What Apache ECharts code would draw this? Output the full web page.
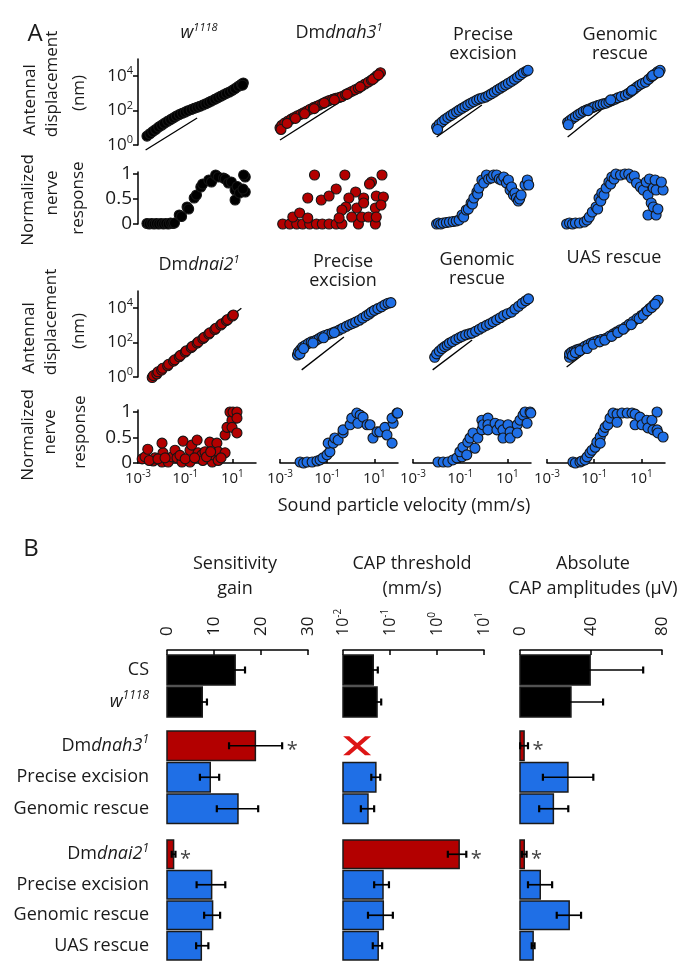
<!DOCTYPE html>
<html>
<head>
<meta charset="utf-8">
<script src="https://cdn.jsdelivr.net/npm/echarts@6.0.0/dist/echarts.min.js"></script>
<style>html,body{margin:0;padding:0;background:#fff;}#chart{width:685px;height:975px;}</style>
</head>
<body>
<div id="chart"></div>
<script>
// ================= DATA =================
const velTicks = [0.001, 0.1, 10];
const dispTicks = [1, 100, 10000];
const respTicks = [0, 0.5, 1];
const gainTicks = [0, 10, 20, 30];
const thrTicks = [0.01, 0.1, 1, 10];
const ampTicks = [0, 40, 80];

// Panel A: antennal displacement (velocity mm/s, displacement nm)
const disp_w1118 = [[0.0024,3.3],[0.0032,4.5],[0.0042,6],[0.0056,8],[0.0075,11],[0.01,14],[0.013,18],[0.018,24],[0.024,30],[0.032,38],[0.042,48],[0.056,58],[0.075,70],[0.1,82],[0.13,98],[0.18,115],[0.24,135],[0.32,155],[0.42,180],[0.56,210],[0.75,250],[1,300],[1.3,360],[1.8,450],[2.4,550],[3.2,680],[4.2,820],[5.6,1000],[7.5,1200],[10,1500],[13,1900],[18,2600],[24,3400],[29,4000],[27,3000]];
const disp_dnah3 = [[0.001,10],[0.0012,14],[0.0016,19],[0.0022,25],[0.003,32],[0.004,40],[0.0055,50],[0.0075,60],[0.01,75],[0.014,95],[0.019,120],[0.026,150],[0.035,175],[0.047,210],[0.065,260],[0.09,320],[0.12,380],[0.17,450],[0.23,520],[0.32,580],[0.42,650],[0.6,850],[0.8,1050],[1.1,1300],[1.5,1600],[2.1,2000],[2.9,2700],[4,3500],[5.5,4500],[7.5,5900],[10,8000],[13,11000],[18,16000],[0.0011,8],[0.002,18],[0.0045,35],[0.011,65],[0.028,130],[0.075,280],[0.2,420],[0.7,900],[2.5,2400],[8.5,6500],[15,12000]];
const disp_pe1 = [[0.01,11],[0.013,16],[0.017,22],[0.022,30],[0.03,40],[0.04,52],[0.052,66],[0.07,85],[0.09,107],[0.12,135],[0.16,170],[0.21,215],[0.28,270],[0.37,330],[0.5,410],[0.65,480],[0.87,540],[1.2,610],[1.6,760],[2.1,950],[2.8,1200],[3.7,1550],[5,2000],[6.5,2500],[8.5,3100],[11,3900],[15,5000],[20,6500],[27,8800],[36,12000],[48,16000],[65,20000],[75,22000],[0.011,8]];
const disp_gr1 = [[0.0075,21],[0.0095,27],[0.012,34],[0.016,45],[0.021,58],[0.027,72],[0.035,90],[0.046,107],[0.06,125],[0.08,145],[0.1,165],[0.14,195],[0.18,220],[0.24,245],[0.32,270],[0.42,320],[0.56,380],[0.75,460],[1,550],[1.4,650],[2.1,800],[2.8,1000],[3.7,1300],[5,1800],[6.5,2400],[8.5,3100],[11,3800],[15,4500],[20,6500],[27,9500],[36,13000],[48,18000],[62,22000],[0.008,15],[0.055,100],[0.5,420],[4,1500],[30,11000],[55,16000]];
const disp_dnai2 = [[0.004,0.93],[0.0045,1.2],[0.0063,1.5],[0.007,2],[0.01,2.5],[0.011,3.2],[0.018,4.5],[0.02,5.5],[0.032,8.3],[0.036,10],[0.056,15],[0.063,18],[0.1,28],[0.11,33],[0.18,51],[0.2,60],[0.32,93],[0.36,110],[0.56,170],[0.63,200],[1,316],[1.1,370],[1.8,575],[2,680],[3.2,1050],[3.6,1250],[5.6,1900],[6.3,2200],[10,3500],[11,4000]];
const disp_pe2 = [[0.0055,19],[0.006,28],[0.0075,40],[0.009,55],[0.012,70],[0.016,90],[0.021,110],[0.028,125],[0.035,140],[0.047,180],[0.06,220],[0.08,260],[0.11,300],[0.16,355],[0.22,430],[0.32,530],[0.45,680],[0.65,880],[0.9,1100],[1.2,1300],[1.6,1550],[2.3,2000],[3.2,2700],[4.5,3600],[6,4600],[7.5,5900],[10,7500],[14,9500],[20,12000],[28,16000],[38,19500],[50,21000],[0.007,22],[0.01,45],[0.025,95],[0.07,190],[0.2,380]];
const disp_gr2 = [[0.0083,14],[0.01,22],[0.013,32],[0.017,45],[0.022,58],[0.028,72],[0.035,93],[0.047,115],[0.065,150],[0.09,190],[0.12,230],[0.17,280],[0.24,320],[0.32,355],[0.45,450],[0.65,600],[0.9,780],[1.3,1000],[1.8,1250],[2.5,1600],[3.5,2100],[5,2800],[7,3800],[10,4800],[15,5900],[21,9000],[30,13000],[42,19000],[60,27000],[78,35000]];
const disp_uas = [[0.009,14],[0.009,22],[0.011,28],[0.014,32],[0.018,38],[0.023,42],[0.032,48],[0.04,60],[0.055,75],[0.075,95],[0.1,110],[0.14,130],[0.2,150],[0.32,180],[0.45,240],[0.65,320],[0.9,420],[1.3,560],[2.1,800],[3,1150],[4.5,1700],[6.5,2500],[10,3800],[15,5900],[22,9500],[32,15000],[42,22000],[51,29000],[0.012,18],[0.016,26],[0.025,34],[0.05,45],[0.09,80],[0.17,110],[0.28,140],[0.55,230],[1,380],[1.7,600],[3.7,1100],[8,2500],[12,4000],[18,7000],[27,11000],[38,17000]];

// reference (linear) lines, endpoints
const ref_w1118 = [[0.0021,0.51],[0.32,37]];
const ref_dnah3 = [[0.001,1.95],[29,15000]];
const ref_pe1 = [[0.01,2.9],[0.83,210]];
const ref_gr1 = [[0.0075,2.9],[0.2,110]];
const ref_dnai2 = [[0.0026,0.67],[24,10000]];
const ref_pe2 = [[0.0083,2.6],[0.51,210]];
const ref_gr2 = [[0.0068,2.6],[0.32,140]];
const ref_uas = [[0.0068,3.8],[0.21,140]];

// Panel A: normalized nerve response
const resp_w1118 = [[0.0024,0.01],[0.003,0.0],[0.0038,0.01],[0.0048,0.0],[0.006,0.01],[0.0075,0.0],[0.0095,0.01],[0.012,0.0],[0.015,0.01],[0.019,0.0],[0.024,0.02],[0.03,0.01],[0.035,0.02],[0.056,0.18],[0.07,0.15],[0.12,0.34],[0.14,0.3],[0.24,0.52],[0.3,0.58],[0.46,0.74],[0.55,0.8],[1,0.88],[1.3,0.84],[1.95,0.98],[2.5,0.94],[4.2,0.92],[5,0.9],[6.8,0.82],[9,0.84],[13,0.68],[13,0.48],[16,0.75],[20,0.62],[35,0.94],[35,0.64],[30,0.98],[28,0.7]];
const resp_dnah3 = [[0.0013,0],[0.0026,0],[0.0051,0],[0.0091,0],[0.018,0],[0.035,0],[0.062,0],[0.12,0],[0.24,0],[0.42,0],[2.1,0],[11,0],[0.029,0.98],[0.56,0.98],[21,0.98],[7.5,0.84],[6.2,0.8],[0.24,0.7],[1.6,0.64],[0.015,0.52],[0.056,0.48],[0.12,0.56],[0.83,0.52],[3.5,0.52],[12,0.56],[24,0.54],[0.62,0.34],[1.8,0.32],[3.5,0.42],[11,0.32],[19,0.38],[0.0035,0.14],[0.0068,0.22],[0.015,0.12],[0.42,0.28],[1.1,0.14],[2.9,0.14],[5.6,0.14],[12,0.14],[0.32,0.12]];
const resp_pe1 = [[0.01,0.0],[0.012,0.02],[0.015,0.0],[0.019,0.02],[0.026,0.03],[0.035,0.04],[0.05,0.05],[0.068,0.06],[0.09,0.08],[0.12,0.18],[0.14,0.14],[0.18,0.28],[0.22,0.3],[0.29,0.42],[0.33,0.4],[0.38,0.52],[0.51,0.64],[0.55,0.6],[0.62,0.72],[0.83,0.88],[1,0.82],[1.3,0.98],[1.6,0.9],[2.1,0.92],[2.6,0.98],[3.5,0.98],[4.5,0.9],[5.6,0.88],[7,0.94],[9.1,0.82],[11,0.88],[13,0.68],[15,0.74],[18,0.58],[21,0.62],[24,0.52],[29,0.46],[33,0.5],[38,0.58],[56,0.78],[70,0.88],[80,0.78]];
const resp_gr1 = [[0.0068,0.0],[0.009,0.02],[0.012,0.0],[0.016,0.02],[0.024,0.02],[0.038,0.04],[0.05,0.08],[0.062,0.14],[0.083,0.24],[0.12,0.34],[0.14,0.3],[0.16,0.52],[0.19,0.46],[0.21,0.62],[0.26,0.58],[0.32,0.72],[0.42,0.84],[0.5,0.8],[0.56,0.94],[0.7,0.9],[0.83,1.0],[1.3,0.98],[2,1.0],[2.9,1.0],[3.8,0.92],[5,0.96],[6.2,0.82],[9.1,0.74],[12,0.68],[16,0.84],[19,0.58],[19,0.18],[22,0.9],[26,0.42],[32,0.72],[32,0.34],[38,0.88],[42,0.18],[42,0.68],[50,0.3],[83,0.68],[70,0.84]];
const resp_dnai2 = [[0.0015,0.08],[0.002,0.12],[0.0026,0.27],[0.0044,0.04],[0.0052,0.1],[0.0104,0.02],[0.0115,0.2],[0.0104,0.39],[0.019,0.02],[0.028,0.12],[0.037,0.25],[0.045,0.1],[0.073,0.02],[0.081,0.43],[0.16,0.25],[0.16,0.02],[0.19,0.35],[0.32,0.45],[0.35,0.2],[0.51,0.16],[0.69,0.22],[0.56,0.05],[1.1,0.41],[1.4,0.02],[1.5,0.16],[2.2,0.39],[2.5,0.22],[2.5,0.05],[4.9,0.2],[4.9,0.55],[5.9,0.7],[7.9,1.0],[9.6,0.84],[10.6,1.0],[15.6,1.0],[15.6,0.88],[9.6,0.7],[15.6,0.59],[0.003,0.05],[0.007,0.08],[0.014,0.1],[0.06,0.15],[0.1,0.08],[0.25,0.1],[0.8,0.12],[1.2,0.22],[3.3,0.1]];
const resp_pe2 = [[0.0071,0.02],[0.01,0.0],[0.014,0.02],[0.023,0.02],[0.037,0.04],[0.05,0.06],[0.066,0.1],[0.098,0.16],[0.13,0.22],[0.11,0.39],[0.18,0.39],[0.21,0.49],[0.29,0.45],[0.47,0.59],[0.47,0.65],[0.93,0.75],[1.1,0.88],[1.8,0.98],[2.5,0.94],[2,0.78],[3.3,0.9],[4.9,0.75],[6.5,0.75],[8.7,0.49],[13,0.61],[17,0.61],[28,0.7],[34,0.55],[56,0.39],[62,0.78],[56,0.88],[91,0.98],[97,0.98]];
const resp_gr2 = [[0.0115,0.02],[0.019,0.02],[0.03,0.02],[0.049,0.06],[0.072,0.1],[0.12,0.12],[0.097,0.22],[0.13,0.31],[0.19,0.16],[0.21,0.41],[0.26,0.49],[0.42,0.29],[0.35,0.59],[0.56,0.49],[0.83,0.65],[0.83,0.84],[0.93,0.75],[1.5,0.88],[1.5,0.75],[1.5,0.65],[3,0.78],[3.6,0.65],[4.9,0.75],[6.5,0.65],[6.5,0.49],[10.6,0.75],[13,0.61],[13,0.49],[26,0.75],[26,0.59],[34,0.84],[46,0.94],[56,1.0],[68,0.78],[91,1.0],[98,0.98]];
const resp_uas = [[0.0126,0.02],[0.016,0.0],[0.025,0.02],[0.03,0.04],[0.041,0.06],[0.05,0.12],[0.066,0.2],[0.081,0.25],[0.11,0.31],[0.13,0.41],[0.18,0.51],[0.18,0.39],[0.24,0.61],[0.29,0.7],[0.38,0.75],[0.47,0.88],[0.63,0.98],[0.93,0.96],[0.93,0.8],[1.5,0.98],[2.5,0.98],[4,0.98],[5.4,0.96],[5.4,0.75],[8.7,0.9],[10.6,0.75],[17,0.84],[19,0.69],[28,0.84],[31,0.65],[46,1.0],[46,0.65],[50,0.59],[83,0.51]];

// Panel B: bar groups
const barGroups = [['CS','w1118'],['Dmdnah3','Precise excision','Genomic rescue'],['Dmdnai2','Precise excision','Genomic rescue','UAS rescue']];
const barColorKeys = [['k','k'],['r','b','b'],['r','b','b','b']];
const gainVal = [[14.5,7.5],[18.8,9.2,15.1],[1.4,9.5,9.7,7.3]];
const gainLo  = [[12.4,6.5],[13.2,7.0,10.6],[1.0,6.3,7.9,6.2]];
const gainHi  = [[16.6,8.5],[24.5,11.1,19.4],[1.8,12.4,11.3,8.8]];
const gainStar= [[0,0],[1,0,0],[1,0,0,0]];
const thrVal = [[0.044,0.053],[null,0.050,0.034],[2.96,0.071,0.072,0.056]];
const thrLo  = [[0.036,0.043],[null,0.040,0.024],[1.7,0.046,0.034,0.043]];
const thrHi  = [[0.055,0.065],[null,0.062,0.046],[4.2,0.095,0.115,0.068]];
const thrStar= [[0,0],[0,0,0],[1,0,0,0]];
const thrNoResponse = [[0.02, 0]]; // red X for Dmdnah3 (group 2, row 0)
const ampVal = [[39.5,28.7],[2.3,27,18.8],[2.4,11.4,27.7,7.4]];
const ampLo  = [[9.6,10.6],[0.1,12.9,10.8],[1.1,4.5,20.7,6.6]];
const ampHi  = [[69.4,46.8],[4.5,41.3,27.2],[3.7,18.1,34.4,8.2]];
const ampStar= [[0,0],[1,0,0],[1,0,0,0]];

// ================= STYLE / LAYOUT =================
const FONT = '"Open Sans","Noto Sans",sans-serif';
const INK = '#1a1a1a';
const COLORS = {k:'#000000', r:'#b30000', b:'#1f6fe6'};

const grids=[], xAxes=[], yAxes=[], series=[];

function powLabel(v){ const e = Math.round(Math.log10(v)); return '{b|10}{s|' + e + '}'; }
function supRich(bs, ss){
  return { b:{fontFamily:FONT,fontSize:bs,color:INK,lineHeight:bs+4},
           s:{fontFamily:FONT,fontSize:ss,color:INK,verticalAlign:'top',lineHeight:ss+1} };
}
const axLine = {show:true, onZero:false, lineStyle:{color:'#000', width:1.5}};

const colLeft = [138, 280, 413, 547];
const PW = 118;
const rowLayout = [
  {top:59, height:86, kind:'disp'},
  {top:172, height:52, kind:'resp'},
  {top:291, height:86, kind:'disp'},
  {top:410, height:53, kind:'resp'}
];
const rowPlots = [
  [[disp_w1118,ref_w1118,'k'],[disp_dnah3,ref_dnah3,'r'],[disp_pe1,ref_pe1,'b'],[disp_gr1,ref_gr1,'b']],
  [[resp_w1118,null,'k'],[resp_dnah3,null,'r'],[resp_pe1,null,'b'],[resp_gr1,null,'b']],
  [[disp_dnai2,ref_dnai2,'r'],[disp_pe2,ref_pe2,'b'],[disp_gr2,ref_gr2,'b'],[disp_uas,ref_uas,'b']],
  [[resp_dnai2,null,'r'],[resp_pe2,null,'b'],[resp_gr2,null,'b'],[resp_uas,null,'b']]
];

rowPlots.forEach((row, r) => {
  const L = rowLayout[r];
  row.forEach((p, c) => {
    const gi = grids.length;
    grids.push({left:colLeft[c], top:L.top, width:PW, height:L.height, outerBoundsMode:'none'});
    xAxes.push({gridIndex:gi, type:'log', logBase:10, min:0.001, max:100, show: r===3,
      axisLine:axLine,
      axisTick:{show:true, inside:true, length:4, customValues:velTicks, lineStyle:{color:'#000',width:1.5}},
      axisLabel:{show:true, customValues:velTicks, formatter:powLabel, rich:supRich(15,10), margin:6},
      splitLine:{show:false}, minorTick:{show:false}, minorSplitLine:{show:false}});
    if (L.kind === 'disp') {
      yAxes.push({gridIndex:gi, type:'log', logBase:10, min:1, max:100000, show: c===0,
        axisLine:axLine,
        axisTick:{show:true, length:5, customValues:dispTicks, lineStyle:{color:'#000',width:1.5}},
        axisLabel:{show:true, customValues:dispTicks, formatter:powLabel, rich:supRich(17,11), margin:5},
        splitLine:{show:false}, minorTick:{show:false}});
    } else {
      yAxes.push({gridIndex:gi, type:'value', min:0, max:1.04, show: c===0,
        axisLine:axLine,
        axisTick:{show:true, length:5, customValues:respTicks, lineStyle:{color:'#000',width:1.5}},
        axisLabel:{show:true, customValues:respTicks, formatter:v=>String(v), fontFamily:FONT, fontSize:19, color:INK, margin:6},
        splitLine:{show:false}});
    }
    if (p[1]) {
      series.push({type:'line', xAxisIndex:gi, yAxisIndex:gi, data:p[1], symbol:'none', clip:false, silent:true,
        lineStyle:{color:'#000', width:1.3}, z:2});
    }
    series.push({type:'scatter', xAxisIndex:gi, yAxisIndex:gi, data:p[0], symbol:'circle', symbolSize:10, clip:false,
      itemStyle:{color:COLORS[p[2]], borderColor:'#151515', borderWidth:1.1, opacity:1}, z:3});
  });
});

// ---- Panel B ----
const colB = [{left:167,width:141},{left:343,width:141},{left:520,width:142}];
const rowB = [{top:654,height:64},{top:730,height:94.5},{top:839,height:122}];
const chartsB = [
  {val:gainVal, lo:gainLo, hi:gainHi, star:gainStar, type:'value', min:0, max:30, ticks:gainTicks},
  {val:thrVal, lo:thrLo, hi:thrHi, star:thrStar, type:'log', min:0.01, max:10, ticks:thrTicks},
  {val:ampVal, lo:ampLo, hi:ampHi, star:ampStar, type:'value', min:0, max:80, ticks:ampTicks}
];
const catRich = {
  r:{fontFamily:FONT,fontSize:18,color:INK,lineHeight:24},
  i:{fontFamily:FONT,fontSize:18,fontStyle:'italic',color:INK,lineHeight:24},
  si:{fontFamily:FONT,fontSize:12,fontStyle:'italic',color:INK,verticalAlign:'top',lineHeight:12}
};
function catLabel(name){
  if (name === 'w1118') return '{i|w}{si|1118}';
  if (name.indexOf('Dm') === 0) return '{r|Dm}{i|' + name.slice(2) + '}{si|1}';
  return '{r|' + name + '}';
}
function makeBarRender(minVal, cols, nCat){
  return function(params, api){
    const v = api.value(0), c = api.value(1);
    const p0 = api.coord([minVal, c]), p1 = api.coord([v, c]);
    const h = params.coordSys.height / nCat * 0.93;
    return {type:'rect', shape:{x:p0[0], y:p1[1]-h/2, width:p1[0]-p0[0], height:h},
      style:{fill:cols[params.dataIndex], stroke:'#1a1a1a', lineWidth:1.5}};
  };
}
function errRender(params, api){
  const lo = api.value(0), hi = api.value(1), c = api.value(2), st = api.value(3);
  const a = api.coord([lo, c]), b = api.coord([hi, c]);
  const cap = 3.5;
  const ls = {stroke:'#000', lineWidth:1.7};
  const children = [
    {type:'line', shape:{x1:a[0],y1:a[1],x2:b[0],y2:b[1]}, style:ls},
    {type:'line', shape:{x1:a[0],y1:a[1]-cap,x2:a[0],y2:a[1]+cap}, style:{stroke:'#000',lineWidth:2.2}},
    {type:'line', shape:{x1:b[0],y1:b[1]-cap,x2:b[0],y2:b[1]+cap}, style:{stroke:'#000',lineWidth:2.2}}
  ];
  if (st) children.push({type:'text', x:b[0]+10, y:b[1]+5,
    style:{text:'*', fill:'#444', font:'20px ' + FONT, align:'center', verticalAlign:'middle'}});
  return {type:'group', children};
}

chartsB.forEach((ch, k) => {
  rowB.forEach((rb, g) => {
    const gi = grids.length;
    const cats = barGroups[g];
    grids.push({left:colB[k].left, top:rb.top, width:colB[k].width, height:rb.height, outerBoundsMode:'none'});
    xAxes.push({gridIndex:gi, type:ch.type, logBase:10, min:ch.min, max:ch.max, position:'top', offset:4, show: g===0,
      axisLine:axLine,
      axisTick:{show:true, inside:true, length:5, customValues:ch.ticks, lineStyle:{color:'#000',width:1.5}},
      axisLabel:{show:true, rotate:-90, customValues:ch.ticks, margin:14,
        formatter: ch.type==='log' ? powLabel : (v=>String(v)),
        fontFamily:FONT, fontSize:17, color:INK, rich: supRich(16,10)},
      splitLine:{show:false}, minorTick:{show:false}});
    yAxes.push({gridIndex:gi, type:'category', data:cats, inverse:true, show: k===0,
      axisLine:{show:false}, axisTick:{show:false},
      axisLabel:{show:true, formatter:catLabel, rich:catRich, margin:18, align:'right'}});
    const barData = [], barCols = [], errData = [];
    cats.forEach((name, i) => {
      if (ch.val[g][i] == null) return;
      barData.push([ch.val[g][i], i]);
      barCols.push(COLORS[barColorKeys[g][i]]);
      errData.push([ch.lo[g][i], ch.hi[g][i], i, ch.star[g][i]]);
    });
    series.push({type:'custom', xAxisIndex:gi, yAxisIndex:gi, data:barData, encode:{x:0, y:1},
      renderItem: makeBarRender(ch.min, barCols, cats.length), z:2, silent:true});
    series.push({type:'custom', xAxisIndex:gi, yAxisIndex:gi, data:errData, encode:{x:[0,1], y:2},
      renderItem: errRender, z:3, silent:true});
    if (k === 1 && g === 1) {
      series.push({type:'scatter', xAxisIndex:gi, yAxisIndex:gi, data:thrNoResponse, clip:false,
        symbol:'path://M0,0L22,0L50,36L78,0L100,0L61,50L100,100L78,100L50,64L22,100L0,100L39,50Z',
        symbolSize:[28,19], itemStyle:{color:'#dd1515', opacity:1}, z:4, silent:true});
    }
  });
});

// ---- Titles ----
const titleRich = {
  i:{fontFamily:FONT,fontSize:18,fontStyle:'italic',color:INK,lineHeight:22},
  s:{fontFamily:FONT,fontSize:11,fontStyle:'italic',color:INK,verticalAlign:'top',lineHeight:11}
};
const titleDefs = [
  ['{i|w}{s|1118}', 199, 22],
  ['Dm{i|dnah3}{s|1}', 339, 22],
  ['Precise\nexcision', 483, 25],
  ['Genomic\nrescue', 620, 25],
  ['Dm{i|dnai2}{s|1}', 199, 254],
  ['Precise\nexcision', 343, 252],
  ['Genomic\nrescue', 477, 250],
  ['UAS rescue', 614, 248],
  ['Sensitivity\ngain', 235, 551],
  ['CAP threshold\n(mm/s)', 412, 551],
  ['Absolute\nCAP amplitudes (\u00b5V)', 593, 551]
];
const titles = titleDefs.map(t => ({text:t[0], left:t[1], top:t[2], textAlign:'center', padding:0, itemGap:0,
  textStyle:{fontFamily:FONT, fontSize:18, fontWeight:'normal', color:INK, lineHeight:t[2] > 500 ? 25 : 19, rich:titleRich}}));

// ---- free text ----
function vtext(str, x, y, size){
  return {type:'text', x:x, y:y, rotation:Math.PI/2, silent:true,
    style:{text:str, font:(size||16) + 'px ' + FONT, fill:INK, align:'center', verticalAlign:'middle'}};
}
const graphics = [
  {type:'text', x:35, y:34, silent:true, style:{text:'A', font:'24px ' + FONT, fill:INK, align:'center', verticalAlign:'middle'}},
  {type:'text', x:31, y:549, silent:true, style:{text:'B', font:'24px ' + FONT, fill:INK, align:'center', verticalAlign:'middle'}},
  {type:'text', x:404, y:506, silent:true, style:{text:'Sound particle velocity (mm/s)', font:'18px ' + FONT, fill:INK, align:'center', verticalAlign:'middle'}},
  vtext('Antennal', 30, 100, 17), vtext('displacement', 52, 84, 17), vtext('(nm)', 79, 93, 17),
  vtext('Normalized', 28, 200, 17), vtext('nerve', 52, 193, 17), vtext('response', 78, 198, 17),
  vtext('Antennal', 29, 338, 17), vtext('displacement', 51, 322, 17), vtext('(nm)', 79, 331, 17),
  vtext('Normalized', 28, 435, 17), vtext('nerve', 50, 432, 17), vtext('response', 80, 432, 17)
];

const chart = echarts.init(document.getElementById('chart'), null, {renderer:'canvas'});
chart.setOption({
  animation:false,
  backgroundColor:'#fff',
  title:titles,
  grid:grids, xAxis:xAxes, yAxis:yAxes, series:series,
  graphic:graphics
});
</script>
</body>
</html>
